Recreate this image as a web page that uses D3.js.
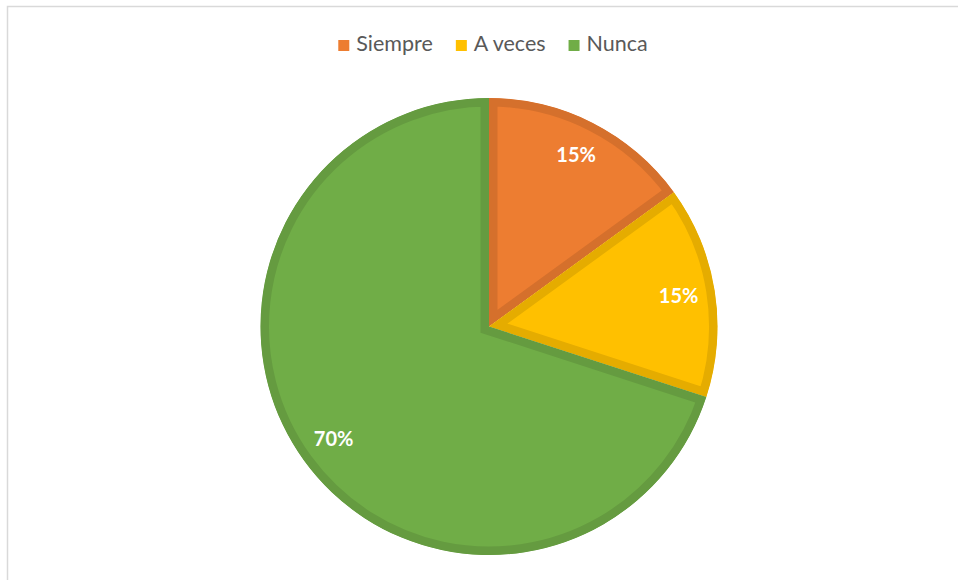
<!DOCTYPE html>
<html lang="es">
<head>
<meta charset="UTF-8">
<title>Pie</title>
<script src="https://cdn.jsdelivr.net/npm/d3@7"></script>
<style>
    body { margin: 0; background: #fff; }
    svg text { font-family: Lato, "Open Sans", sans-serif; }
</style>
</head>
<body>
<script>
const categories = ["Siempre", "A veces", "Nunca"];
const values = [15, 15, 70];
const fillColors = ["#ED7D31", "#FFC000", "#70AD47"];
const edgeColors = ["#D5702C", "#E5AC00", "#659B40"];

const w = 958, h = 580;
const cx = 489, cy = 326.5, r = 228.5;

const svg = d3.select("body").append("svg")
    .attr("width", w)
    .attr("height", h);

// chart area frame
svg.append("rect")
    .attr("x", 7.5).attr("y", 6.5)
    .attr("width", w).attr("height", h)
    .attr("fill", "none")
    .attr("stroke", "#d9d9d9")
    .attr("stroke-width", 1.5);

const pie = d3.pie().sort(null).value(d => d.value);
const data = pie(categories.map((c, i) => ({ name: c, value: values[i], i: i })));

const arc = d3.arc().innerRadius(0).outerRadius(r);
const labelArc = d3.arc().innerRadius(192).outerRadius(192);

const g = svg.append("g").attr("transform", `translate(${cx},${cy})`);

const defs = svg.append("defs");
data.forEach((d, i) => {
    defs.append("clipPath").attr("id", "clip" + i)
        .append("path").attr("d", arc(d));
});

// each slice gets an inner border of its own darker shade
g.selectAll("path.slice")
    .data(data)
    .enter()
    .append("path")
    .attr("class", "slice")
    .attr("d", arc)
    .attr("fill", d => fillColors[d.data.i])
    .attr("stroke", d => edgeColors[d.data.i])
    .attr("stroke-width", 17)
    .attr("stroke-linejoin", "miter")
    .attr("clip-path", (d, i) => "url(#clip" + i + ")");

g.selectAll("text.lbl")
    .data(data)
    .enter()
    .append("text")
    .attr("class", "lbl")
    .attr("transform", d => "translate(" + labelArc.centroid(d) + ")")
    .attr("text-anchor", "middle")
    .attr("dy", "0.35em")
    .attr("fill", "#fff")
    .attr("font-size", 20)
    .attr("font-weight", "bold")
    .text(d => d.data.value + "%");

// legend
const legend = svg.append("g").attr("class", "legend");
const items = legend.selectAll("g")
    .data(categories)
    .enter()
    .append("g");

items.append("rect")
    .attr("width", 11).attr("height", 11)
    .attr("y", -11)
    .attr("fill", (d, i) => fillColors[i]);

items.append("text")
    .attr("x", 18)
    .attr("fill", "#595959")
    .attr("font-size", 21.5)
    .text(d => d);

let xs = [], tot = 0;
items.each(function () {
    const tw = this.querySelector("text").getComputedTextLength();
    xs.push(tot);
    tot += 18 + tw + 23;
});
tot -= 23;
const lx = 493 - tot / 2;
items.attr("transform", (d, i) => `translate(${lx + xs[i]},51)`);
</script>
</body>
</html>
